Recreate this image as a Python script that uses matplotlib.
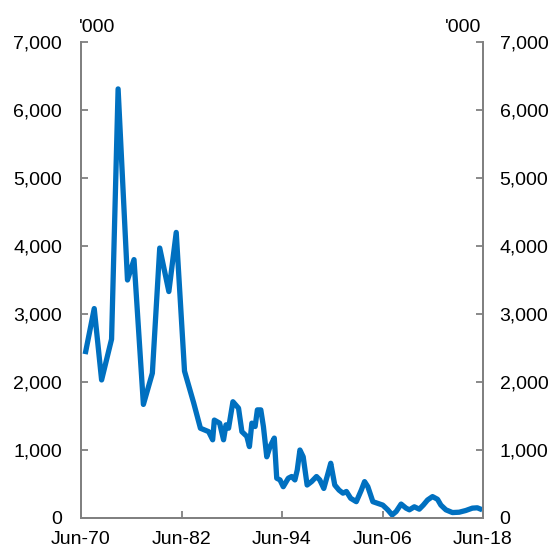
import matplotlib
matplotlib.use("Agg")
import matplotlib.pyplot as plt
from matplotlib.ticker import FuncFormatter

years = [1971.0, 1972.08, 1972.96, 1974.15, 1974.93, 1976.05, 1976.83, 1977.95, 1979.02, 1979.9,
         1980.99, 1981.87, 1982.86, 1983.96, 1984.76, 1985.74, 1986.22, 1986.42, 1987.05, 1987.52,
         1987.81, 1988.12, 1988.64, 1989.31, 1989.71, 1990.3, 1990.61, 1990.9, 1991.29, 1991.56,
         1991.97, 1992.28, 1992.68, 1993.07, 1993.58, 1993.87, 1994.26, 1994.65, 1995.25, 1995.65,
         1996.04, 1996.32, 1996.64, 1997.03, 1997.5, 1998.03, 1998.62, 1999.01, 1999.49, 2000.0,
         2000.32, 2000.8, 2001.31, 2001.78, 2002.19, 2002.7, 2003.37, 2003.97, 2004.36, 2004.75,
         2005.35, 2005.94, 2006.53, 2007.13, 2007.65, 2008.13, 2008.72, 2009.31, 2009.71, 2010.3,
         2010.89, 2011.37, 2011.88, 2012.47, 2013.07, 2013.47, 2014.07, 2014.85, 2015.65, 2016.44,
         2017.23, 2017.82, 2018.42]
values = [2410, 3080, 2030, 2630, 6310, 3500, 3800, 1670, 2130, 3970,
          3330, 4200, 2160, 1690, 1320, 1270, 1150, 1440, 1395, 1150,
          1370, 1320, 1710, 1615, 1270, 1200, 1050, 1395, 1345, 1590,
          1590, 1345, 900, 1050, 1175, 585, 560, 460, 585, 610,
          560, 705, 1000, 900, 485, 535, 610, 560, 435, 660,
          805, 485, 410, 365, 390, 290, 240, 410, 535, 460,
          240, 215, 190, 120, 45, 95, 205, 145, 120, 165,
          130, 190, 265, 315, 275, 190, 120, 80, 85, 110,
          145, 150, 120]

xtick_pos = [1970.5, 1982.5, 1994.5, 2006.5, 2018.5]
xtick_labels = ["Jun-70", "Jun-82", "Jun-94", "Jun-06", "Jun-18"]
yticks = [0, 1000, 2000, 3000, 4000, 5000, 6000, 7000]
unit_label = "'000"

plt.rcParams['font.family'] = ['Liberation Sans', 'DejaVu Sans']

fig = plt.figure(figsize=(5.56, 5.52), dpi=100)
ax = fig.add_axes([81/556, 1-518/552, (483-81)/556, (518-42)/552])
ax2 = ax.twinx()
ax.plot(years, values, color='#0070C0', lw=3.8, solid_joinstyle='round', solid_capstyle='butt')
ax.set_xlim(1970.5, 2018.5)
ax.set_ylim(0, 7000)
ax2.set_ylim(0, 7000)

grey = '#808080'
for a in (ax, ax2):
    a.spines['top'].set_visible(False)
    for s in ['left', 'right', 'bottom']:
        a.spines[s].set_color(grey)
        a.spines[s].set_linewidth(1.3)

fmt = FuncFormatter(lambda v, p: f"{int(v):,}")
for a in (ax, ax2):
    a.set_yticks(yticks)
    a.yaxis.set_major_formatter(fmt)
ax.set_xticks(xtick_pos)
ax.set_xticklabels(xtick_labels)
ax.tick_params(axis='y', direction='in', length=5, width=1.3, color=grey, labelsize=14, pad=13.5)
ax2.tick_params(axis='y', direction='in', length=5, width=1.3, color=grey, labelsize=14, pad=12)
ax.tick_params(axis='x', direction='in', length=5, width=1.3, color=grey, labelsize=14, pad=9)

fig.text(79/556, 1-32/552, unit_label, ha='left', va='baseline', fontsize=14)
fig.text(481/556, 1-32/552, unit_label, ha='right', va='baseline', fontsize=14)

fig.savefig("out.png", dpi=100)
